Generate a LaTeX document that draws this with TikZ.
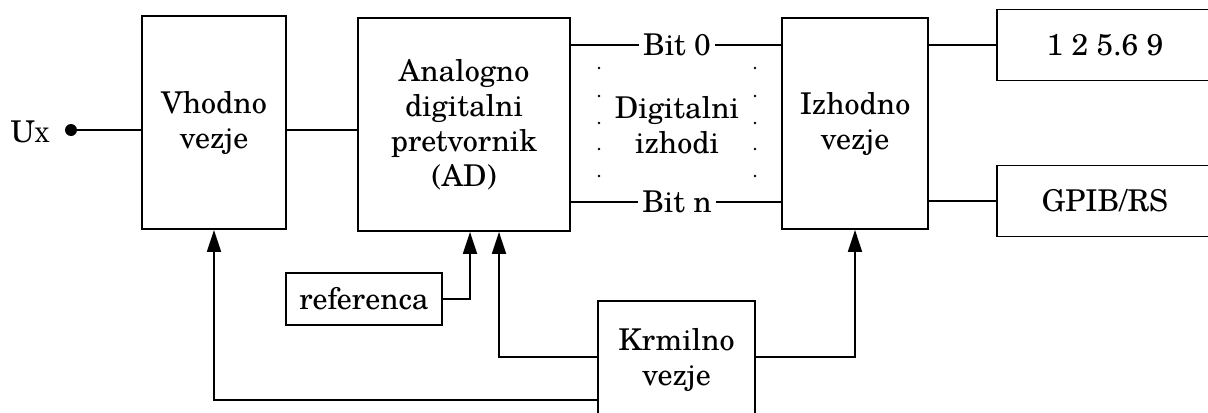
\documentclass[tikz,border=0pt]{standalone}
\usepackage{fontspec}
\setmainfont{TeX Gyre Schola}
\usetikzlibrary{arrows.meta,calc}
\begin{document}
\begin{tikzpicture}[x=0.5pt,y=-0.5pt,
  txt/.style={font=\fontsize{15}{17.5}\selectfont,align=center},
  blk/.style={txt,draw,line width=0.9pt,inner sep=0pt},
  wire/.style={line width=0.9pt},
  arr/.style={wire,-{Triangle[length=11pt,width=7pt]}},
  bitlbl/.style={txt,fill=white,inner xsep=2pt,inner ysep=0pt}]
\useasboundingbox (0,0) rectangle (1208,412);

% blocks
\node[blk,minimum width=72pt,minimum height=106.5pt] (vh) at (214,122.5) {Vhodno\\vezje};
\node[blk,minimum width=106pt,minimum height=106.5pt] (ad) at (464,124.5) {Analogno\\digitalni\\pretvornik\\(AD)};
\node[blk,minimum width=73pt,minimum height=105.5pt] (iz) at (855,123.5) {Izhodno\\vezje};
\node[blk,minimum width=108pt,minimum height=35.5pt] (disp) at (1105,45) {1 2 5.6 9};
\node[blk,minimum width=108pt,minimum height=35.5pt] (bus) at (1105,201) {GPIB/RS};
\node[blk,minimum width=78pt,minimum height=26pt] (ref) at (364,299) {referenca};
\node[blk,minimum width=78.5pt,minimum height=59pt] (kr) at (676.5,360) {Krmilno\\vezje};

% input terminal
\node[txt,anchor=base] (ux) at (30,142) {U{\fontsize{10}{10}\selectfont X}};
\fill (71,130) circle (3pt) coordinate (uxdot);
\draw[wire] (uxdot) -- (uxdot -| vh.west);
\draw[wire] (vh.east |- 0,130) coordinate (vhout) -- (vhout -| ad.west);

% digital outputs
\coordinate (b0) at (ad.east |- 0,45);
\coordinate (bn) at (ad.east |- 0,202);
\draw[wire] (b0) -- (b0 -| iz.west);
\draw[wire] (bn) -- (bn -| iz.west);
\node[bitlbl] (bit0) at (677,45) {Bit 0};
\node[bitlbl] (bitn) at (677,202) {Bit n};
\node[txt] (dig) at (677,125) {Digitalni\\izhodi};
\foreach \yy in {68,96,123,149,176}{
  \fill (599,\yy) circle (0.7pt);
  \fill (755,\yy) circle (0.7pt);
}

% outputs
\draw[wire] (iz.east |- disp.west) -- (disp.west);
\draw[wire] (iz.east |- bus.west) -- (bus.west);

% reference and control
\draw[arr] (ref.east) -| (ad.south -| 470,0);
\draw[arr] (kr.west |- 0,357) -| (ad.south -| 499,0);
\draw[arr] (kr.west |- 0,400) -| (vh.south);
\draw[arr] (kr.east |- 0,357) -| (iz.south);
\end{tikzpicture}
\end{document}
